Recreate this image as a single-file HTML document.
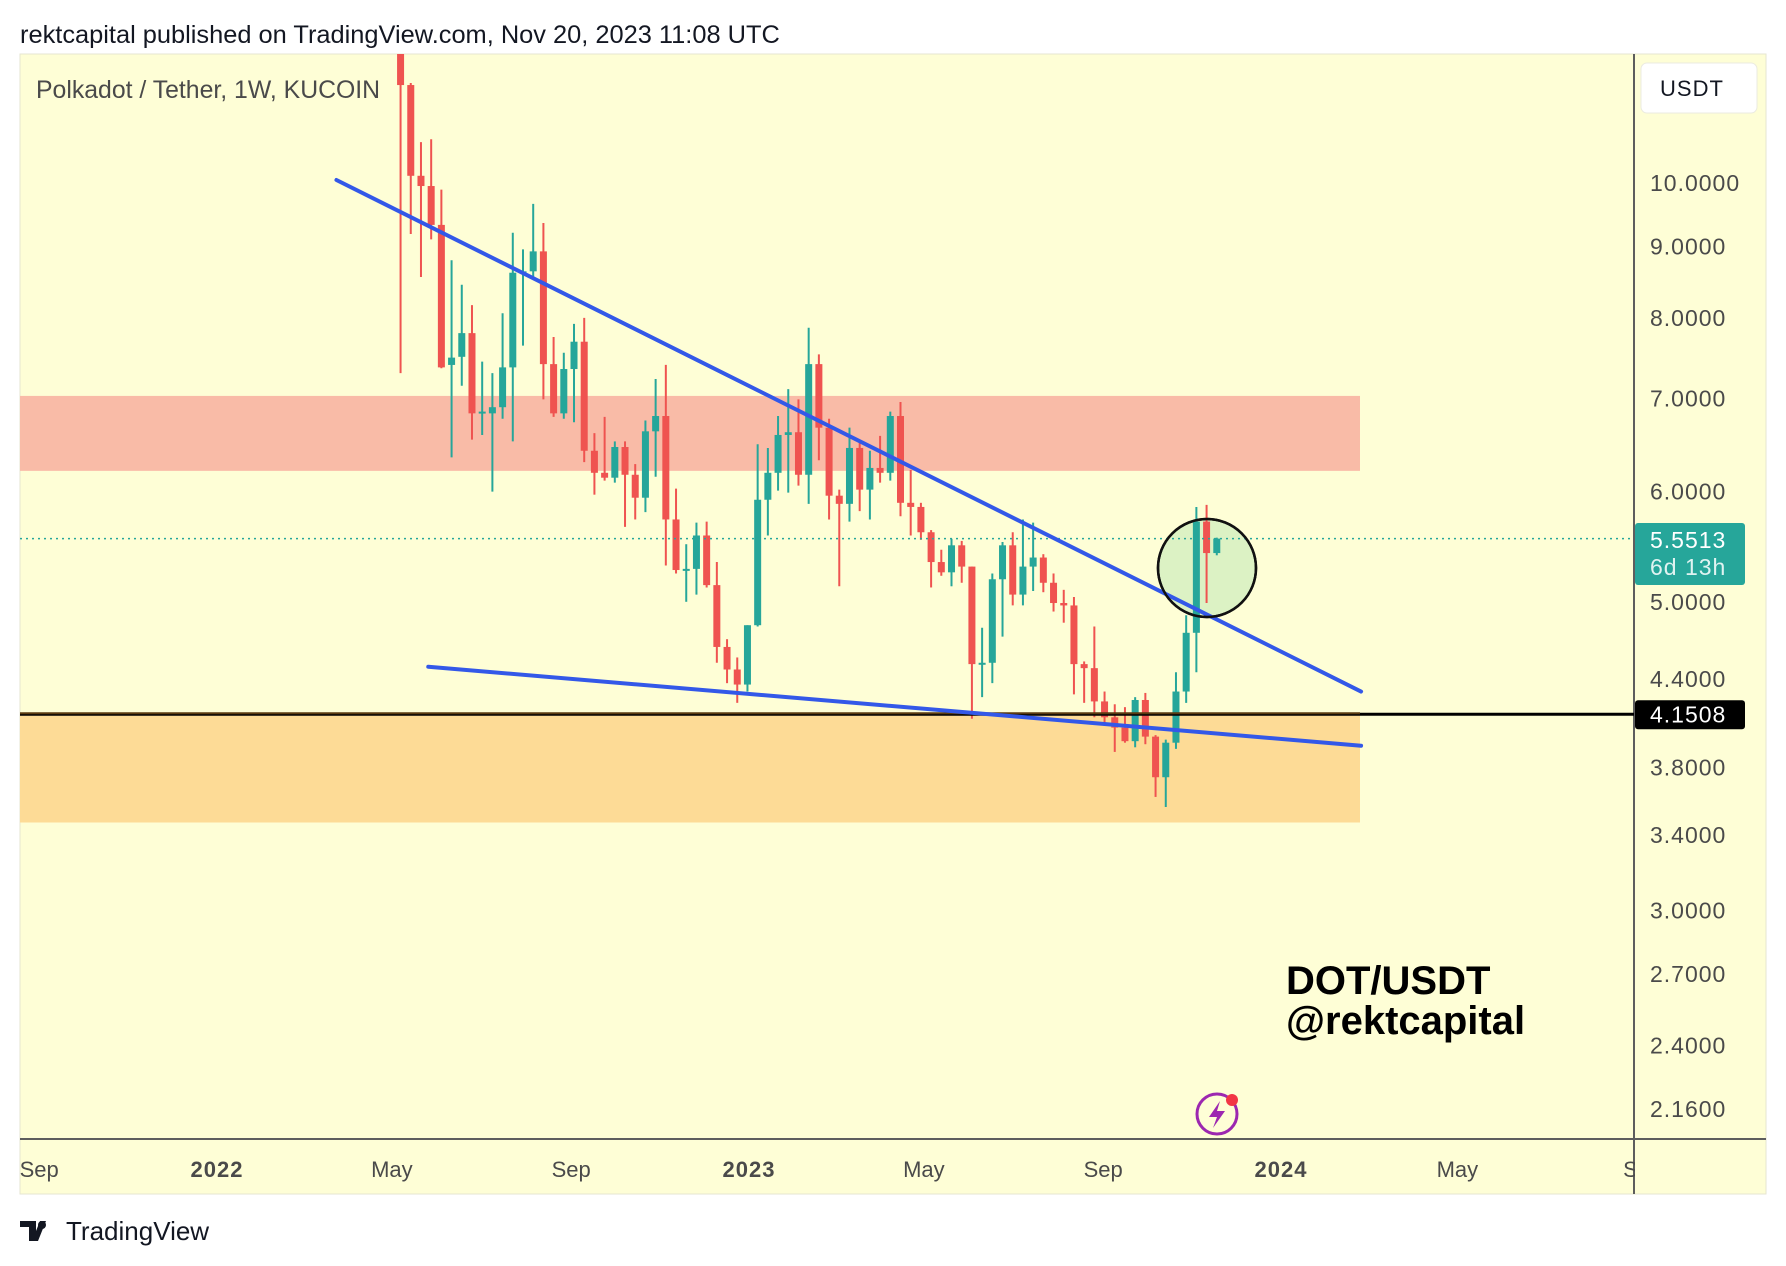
<!DOCTYPE html>
<html><head><meta charset="utf-8"><style>
html,body{margin:0;padding:0;background:#fff;}
body{width:1786px;height:1266px;overflow:hidden;position:relative;font-family:"Liberation Sans",sans-serif;}
svg{position:absolute;left:0;top:0;}
</style></head><body>
<svg id="chart" width="1786" height="1266" viewBox="0 0 1786 1266" xmlns="http://www.w3.org/2000/svg">
<defs><clipPath id="pane"><rect x="20" y="54" width="1614" height="1085"/></clipPath></defs>
<text x="20" y="43" font-size="25.4" fill="#131722" font-family="Liberation Sans, sans-serif">rektcapital published on TradingView.com, Nov 20, 2023 11:08 UTC</text>
<rect x="20" y="54" width="1746" height="1140" fill="#fefed6" stroke="#e6e6d0" stroke-width="1"/>
<g id="zones"></g>
<g id="grid"></g>
<g id="under"></g>
<g id="candles" clip-path="url(#pane)"></g>
<g id="overlays"></g>
<text x="36" y="98" font-size="24.8" fill="#4a4a4a">Polkadot / Tether, 1W, KUCOIN</text>
<rect x="1641" y="63" width="116" height="50" rx="6" fill="#fff" stroke="#ebebe0"/>
<text x="1692" y="96" font-size="22" fill="#131722" text-anchor="middle" letter-spacing="1">USDT</text>
<text x="1286" y="994" font-size="40" font-weight="bold" fill="#000">DOT/USDT</text>
<text x="1286" y="1034" font-size="40" font-weight="bold" fill="#000">@rektcapital</text>
<g>
<circle cx="1217" cy="1114" r="20" fill="none" stroke="#9c27b0" stroke-width="3"/>
<path d="M1220 1101 L1209 1117 L1217 1117 L1213 1128 L1225 1111 L1217 1111 Z" fill="#9c27b0"/>
<circle cx="1232" cy="1100" r="6" fill="#f23645"/>
</g>
<g>
<path d="M20 1221 h16 v20 h-7 v-14 h-9 Z M40 1221 h6 l-8 20 h-6 Z" fill="#131722"/>
<circle cx="42" cy="1225" r="4" fill="#131722"/>
<text x="66" y="1240" font-size="26" fill="#131722">TradingView</text>
</g>
</svg>
<script>
const weekStart = "2022-05-09";
const opens  = [13.5,11.76,10.12,9.95,9.33,7.40,7.50,7.80,6.83,6.83,6.90,7.37,8.62,8.64,8.93,7.41,6.83,7.35,7.69,6.42,6.19,6.14,6.46,6.17,5.94,6.63,6.80,5.73,5.27,5.28,5.58,5.14,4.64,4.47,4.36,4.81,5.92,6.19,6.59,6.62,6.17,7.41,6.67,5.96,5.88,6.45,6.02,6.24,6.19,6.80,5.89,5.85,5.61,5.34,5.25,5.49,5.30,4.51,4.52,5.19,5.49,5.06,5.30,5.38,5.16,4.99,4.97,4.51,4.48,4.24,4.13,4.06,3.97,4.25,4.00,3.74,3.96,4.31,4.75,5.71,5.42];
const highs  = [14.5,11.80,10.70,10.75,9.89,8.80,8.45,8.17,7.44,7.30,8.06,9.21,8.96,9.66,9.36,7.75,7.55,7.92,8.00,6.61,6.79,6.52,6.52,6.28,6.75,7.23,7.40,6.03,5.50,5.70,5.71,5.34,4.70,4.56,4.81,6.49,6.45,6.80,7.11,6.99,7.87,7.53,6.77,6.02,6.67,6.52,6.42,6.58,6.85,6.96,6.22,5.89,5.63,5.45,5.55,5.53,5.30,4.79,5.24,5.52,5.61,5.73,5.70,5.41,5.24,5.10,5.04,4.53,4.80,4.31,4.22,4.20,4.27,4.30,4.01,3.98,4.45,4.89,5.85,5.87,5.56];
const lows   = [7.30,9.19,8.56,9.11,7.36,6.35,7.15,6.54,6.59,6.00,6.77,6.52,7.64,8.56,6.99,6.79,6.77,6.73,6.30,5.97,6.11,6.09,5.66,5.73,5.80,6.15,5.31,5.24,5.00,5.06,5.12,4.52,4.37,4.23,4.31,4.80,5.58,6.01,5.99,6.06,5.88,6.32,5.73,5.13,5.71,5.81,5.73,6.09,6.11,5.76,5.58,5.54,5.12,5.22,5.13,5.16,4.12,4.27,4.37,4.72,4.97,4.97,5.09,5.08,4.92,4.83,4.29,4.23,4.13,4.09,3.90,3.96,3.93,3.95,3.62,3.56,3.92,4.23,4.45,4.99,5.40];
const closes = [11.76,10.12,9.95,9.33,7.37,7.49,7.80,6.83,6.85,6.90,7.37,8.62,8.64,8.93,7.41,6.83,7.35,7.69,6.42,6.19,6.14,6.46,6.17,5.94,6.63,6.80,5.73,5.27,5.28,5.58,5.14,4.64,4.47,4.36,4.81,5.92,6.19,6.59,6.62,6.17,7.41,6.67,5.96,5.88,6.45,6.02,6.24,6.19,6.80,5.89,5.85,5.61,5.34,5.25,5.49,5.30,4.51,4.52,5.19,5.49,5.06,5.30,5.38,5.16,4.99,4.97,4.51,4.48,4.24,4.13,4.06,3.97,4.25,4.00,3.74,3.96,4.31,4.75,5.71,5.42,5.5513];
const priceTicks = [10,9,8,7,6,5,4.4,3.8,3.4,3,2.7,2.4,2.16];
const timeTicks = ["2021-09-01","2022-01-01","2022-05-01","2022-09-01","2023-01-01","2023-05-01","2023-09-01","2024-01-01","2024-05-01","2024-09-01"];
const timeLabels = ["Sep","2022","May","Sep","2023","May","Sep","2024","May","Se"];
const timeBold = [false,true,false,false,true,false,false,true,false,false];
const lastPrice = 5.5513;
const keyLevel = 4.1508;
const resistanceZone = [6.21, 7.03];
const supportZone = [3.47, 4.15];
const upperTrend = [["2022-03-26",10.05],["2024-02-27",4.31]];
const lowerTrend = [["2022-05-28",4.49],["2024-02-27",3.94]];

const NS="http://www.w3.org/2000/svg";
const PANE_L=20, PANE_R=1634;
function xOf(d){const t=(new Date(d+"T00:00:00Z")-new Date("2022-01-01T00:00:00Z"))/86400000;return 214+t*(532/365);}
function yOf(p){return 183+Math.log(10/p)*604.2;}
function mk(tag,attrs,parent){const e=document.createElementNS(NS,tag);for(const k in attrs)e.setAttribute(k,attrs[k]);parent.appendChild(e);return e;}
const zones=document.getElementById('zones'), grid=document.getElementById('grid'), under=document.getElementById('under'), cg=document.getElementById('candles'), ov=document.getElementById('overlays');

let z1=mk('rect',{x:PANE_L,y:yOf(resistanceZone[1]),width:1340,height:yOf(resistanceZone[0])-yOf(resistanceZone[1]),fill:'#f9bba7'},zones);


let z2=mk('rect',{x:PANE_L,y:yOf(supportZone[1]),width:1340,height:yOf(supportZone[0])-yOf(supportZone[1]),fill:'#fddb96'},zones);



let va=mk('line',{x1:PANE_R,y1:54,x2:PANE_R,y2:1194,stroke:'#5d5d5d','stroke-width':2},grid);


let ha=mk('line',{x1:20,y1:1139,x2:1766,y2:1139,stroke:'#5d5d5d','stroke-width':2},grid);


priceTicks.forEach(p=>{
  const t=mk('text',{x:1650,y:yOf(p)+8,'font-size':23,fill:'#4a4a4a','letter-spacing':'1'},grid);
  t.textContent=p.toFixed(4);
  
  
});
timeTicks.forEach((d,i)=>{
  const t=mk('text',{x:xOf(d)+3,y:1177,'font-size':22,fill:'#4a4a4a','text-anchor':'middle','font-weight':timeBold[i]?'bold':'normal','letter-spacing':timeBold[i]?'1':'0'},grid);
  t.textContent=timeLabels[i];
  
  
});
mk('rect',{x:1635,y:1140,width:130,height:53,fill:'#fefed6'},grid);

// circle highlight under candles
let ci=mk('circle',{cx:1207,cy:568,r:49,fill:'#dcf2c4',stroke:'#111','stroke-width':2.5},under);



const start=new Date(weekStart+"T00:00:00Z");
closes.forEach((c,i)=>{
  const d=new Date(start.getTime()+i*7*86400000).toISOString().slice(0,10);
  const x=xOf(d);
  const o=opens[i],h=highs[i],l=lows[i];
  const col=c>=o?'#26a69a':'#ef5350';
  const g=mk('g',{},cg);
  
  
  mk('line',{x1:x,y1:yOf(h),x2:x,y2:yOf(l),stroke:col,'stroke-width':2},g);
  const top=yOf(Math.max(o,c)),bot=yOf(Math.min(o,c));
  mk('rect',{x:x-3.5,y:top,width:7,height:Math.max(2,bot-top),fill:col},g);
});

let lp=mk('line',{x1:PANE_L,y1:yOf(lastPrice),x2:PANE_R,y2:yOf(lastPrice),stroke:'#26a69a','stroke-width':1.5,'stroke-dasharray':'2 4'},ov);


function tl(pts,name){const l=mk('line',{x1:xOf(pts[0][0]),y1:yOf(pts[0][1]),x2:xOf(pts[1][0]),y2:yOf(pts[1][1]),stroke:'#3358e8','stroke-width':4,'stroke-linecap':'round'},ov);
  
  }
let kl=mk('line',{x1:PANE_L,y1:yOf(keyLevel),x2:PANE_R,y2:yOf(keyLevel),stroke:'#000','stroke-width':3},ov);


mk('line',{x1:PANE_L,y1:yOf(keyLevel)-1,x2:1360,y2:yOf(keyLevel)-1,stroke:'#5a3a10','stroke-width':2},ov);
tl(upperTrend,'upper-trendline');
tl(lowerTrend,'lower-trendline');
let ring=mk('circle',{cx:1207,cy:568,r:49,fill:'none',stroke:'#111','stroke-width':2.5},ov);



let lb=mk('rect',{x:1635,y:523,width:110,height:62,rx:3,fill:'#26a69a'},ov);


let t1=mk('text',{x:1650,y:548,'font-size':23,fill:'#fff','letter-spacing':'1'},ov);t1.textContent=lastPrice.toFixed(4);


let t2=mk('text',{x:1650,y:575,'font-size':23,fill:'#dff3f1','letter-spacing':'1'},ov);t2.textContent='6d 13h';


let kb=mk('rect',{x:1635,y:yOf(keyLevel)-14,width:110,height:29,rx:3,fill:'#000'},ov);


let kt=mk('text',{x:1650,y:yOf(keyLevel)+8,'font-size':23,fill:'#fff','letter-spacing':'1'},ov);kt.textContent=keyLevel.toFixed(4);


</script>
</body></html>
